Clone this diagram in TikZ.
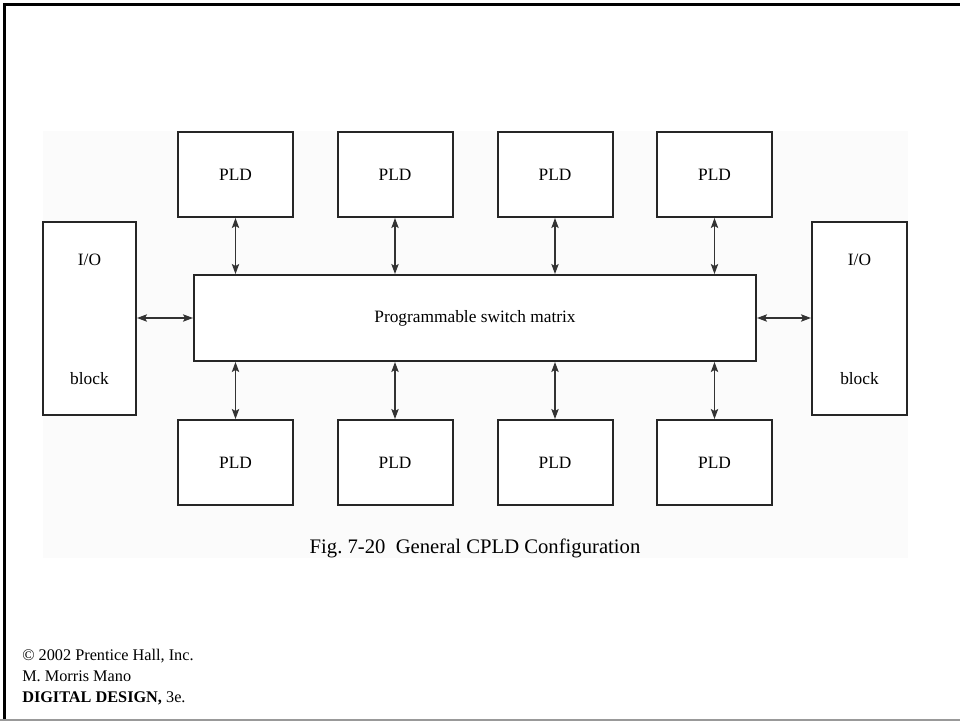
\documentclass[tikz,border=0pt]{standalone}
\usepackage{fontspec}
\setmainfont{Liberation Serif}
\usetikzlibrary{arrows.meta}
\begin{document}
\begin{tikzpicture}[x=0.75pt,y=-0.75pt,
  box/.style={draw=black!85,line width=1.5pt,fill=white,inner sep=0pt},
  pld/.style={box,minimum width=86.25pt,minimum height=63.75pt,font=\fontsize{13}{15}\selectfont},
  tipend/.tip={Stealth[length=7.5pt,width=5.5pt,inset=1.5pt]},
  link/.style={draw=black!80,line width=0.9pt,tipend-tipend},
  lbl/.style={font=\fontsize{13}{15}\selectfont,inner sep=0pt},
  foot/.style={font=\fontsize{12.2}{14}\selectfont,inner sep=0pt,anchor=base west}]
\useasboundingbox (0,0) rectangle (960,721);
\fill[white] (0,0) rectangle (960,721);
% light panel
\fill[black!1.5] (43,131) rectangle (908,558);
% frame
\draw[line width=2.25pt] (960,4.5) -- (4.5,4.5) -- (4.5,721);
\draw[black!40,line width=1.2pt] (0,720) -- (960,720);
% switch matrix
\node[box,minimum width=421.5pt,minimum height=64.5pt,font=\fontsize{13}{15}\selectfont] (m) at (475,318) {Programmable switch matrix};
% I/O blocks
\node[box,minimum width=69.75pt,minimum height=144.75pt] (iol) at (89.5,318.5) {};
\node[box,minimum width=71.25pt,minimum height=144.75pt] (ior) at (859.5,318.5) {};
\node[lbl] (iolt) at (89.5,260) {I/O};
\node[lbl] (iolb) at (89.5,379) {block};
\node[lbl] (iort) at (859.5,260) {I/O};
\node[lbl] (iorb) at (859.5,379) {block};
% PLDs
\node[pld] (t1) at (235.5,174.5) {PLD};
\node[pld] (t2) at (395,174.5) {PLD};
\node[pld] (t3) at (555,174.5) {PLD};
\node[pld] (t4) at (714.5,174.5) {PLD};
\node[pld] (b1) at (235.5,462.5) {PLD};
\node[pld] (b2) at (395,462.5) {PLD};
\node[pld] (b3) at (555,462.5) {PLD};
\node[pld] (b4) at (714.5,462.5) {PLD};
% connectors
\foreach \p in {t1,t2,t3,t4}
  \draw[link] (\p.south) -- (\p.south |- m.north);
\foreach \p in {b1,b2,b3,b4}
  \draw[link] (\p.north) -- (\p.north |- m.south);
\draw[link] (m.west -| iol.east) -- (m.west);
\draw[link] (m.east) -- (m.east -| ior.west);
% caption
\node[font=\fontsize{15.5}{18}\selectfont,inner sep=0pt] (cap) at (475,548) {Fig.\ 7-20\hspace{0.5em}General CPLD Configuration};
% footer
\node[foot] (f1) at (22,660) {© 2002 Prentice Hall, Inc.};
\node[foot] (f2) at (22,681) {M. Morris Mano};
\node[foot] (f3) at (22,702) {\textbf{DIGITAL DESIGN,} 3e.};
\end{tikzpicture}
\end{document}
